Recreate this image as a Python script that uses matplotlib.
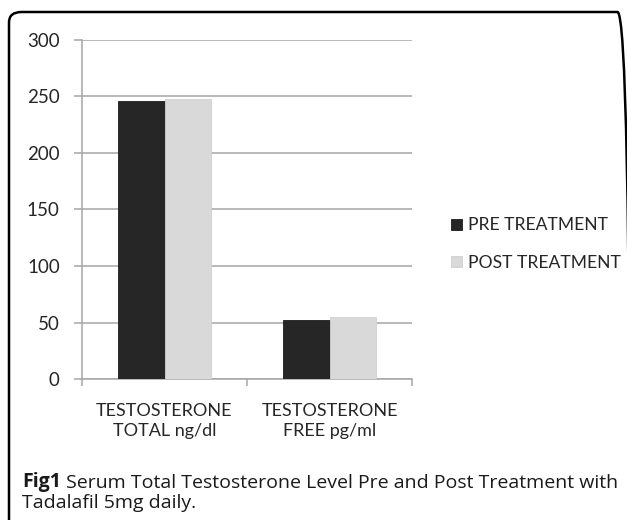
import matplotlib.pyplot as plt
from matplotlib.patches import FancyBboxPatch
import numpy as np

categories = ["TESTOSTERONE\nTOTAL ng/dl", "TESTOSTERONE\nFREE pg/ml"]
pre_values = [245.8, 52.6]
post_values = [247.5, 54.9]
series_names = ["PRE TREATMENT", "POST TREATMENT"]
y_ticks = [0, 50, 100, 150, 200, 250, 300]

chart_font = "Lato"
caption_font = "Open Sans"
grid_color = "#a6a6a6"
fs = 13

fig = plt.figure(figsize=(6.27, 5.2), dpi=100)

# rounded frame around the figure panel (right and bottom sides run off the image)
frame = FancyBboxPatch((9 / 627, -0.2), 621 / 627, 0.2 + 1 - 12 / 520,
                       boxstyle="round,pad=0,rounding_size=0.02",
                       transform=fig.transFigure, facecolor="none",
                       edgecolor="black", linewidth=1.8, zorder=0)
fig.patches.append(frame)

ax = fig.add_axes([82 / 627, 1 - 379 / 520, 330 / 627, 339 / 520])
ax.set_facecolor("none")

x = np.arange(len(categories))
w = 0.282
ax.bar(x - w / 2, pre_values, w, color="#262626", edgecolor="#1a1a1a",
       linewidth=0.6, label=series_names[0], zorder=3)
ax.bar(x + w / 2, post_values, w, color="#d9d9d9", edgecolor="#d0d0d0",
       linewidth=0.6, label=series_names[1], zorder=3)

ax.set_xlim(-0.5, 1.5)
ax.set_ylim(0, 300)
ax.set_yticks(y_ticks)
ax.set_yticklabels([str(v) for v in y_ticks], fontsize=fs + 0.5,
                   family=chart_font, color="#262626")
ax.yaxis.grid(True, color=grid_color, linewidth=1.1, zorder=0)

ax.set_xticks(x)
ax.set_xticklabels(categories, fontsize=fs, family=chart_font,
                   color="#262626", linespacing=1.3)
ax.set_xticks([-0.5, 0.5, 1.5], minor=True)
ax.tick_params(axis="x", which="major", length=0, pad=17)
ax.tick_params(axis="x", which="minor", length=5, color=grid_color, width=1.1)
ax.tick_params(axis="y", length=6, color=grid_color, width=1.1, pad=10)

for side in ["top", "right"]:
    ax.spines[side].set_visible(False)
for side in ["left", "bottom"]:
    ax.spines[side].set_color(grid_color)
    ax.spines[side].set_linewidth(1.1)

leg = fig.legend(loc="center left", bbox_to_anchor=(444 / 627, 1 - 244 / 520),
                 frameon=False, handlelength=0.62, handleheight=0.62,
                 handletextpad=0.35, labelspacing=1.2, borderaxespad=0,
                 prop={"family": chart_font, "size": 12.6})
for t in leg.get_texts():
    t.set_color("#262626")

# caption
cfs = 14
cap = fig.text(22 / 627, 1 - 482 / 520, "Fig1", fontsize=cfs,
               family=caption_font, weight="bold", color="#1a1a1a",
               va="center", ha="left")
ax.annotate(" Serum Total Testosterone Level Pre and Post Treatment with",
            xy=(1, 0), xycoords=cap, va="bottom", ha="left",
            annotation_clip=False,
            fontsize=cfs, family=caption_font, color="#1a1a1a")
fig.text(22 / 627, 1 - 503 / 520, "Tadalafil 5mg daily.", fontsize=cfs,
         family=caption_font, color="#1a1a1a", va="center", ha="left")

fig.savefig("out.png", dpi=100)
